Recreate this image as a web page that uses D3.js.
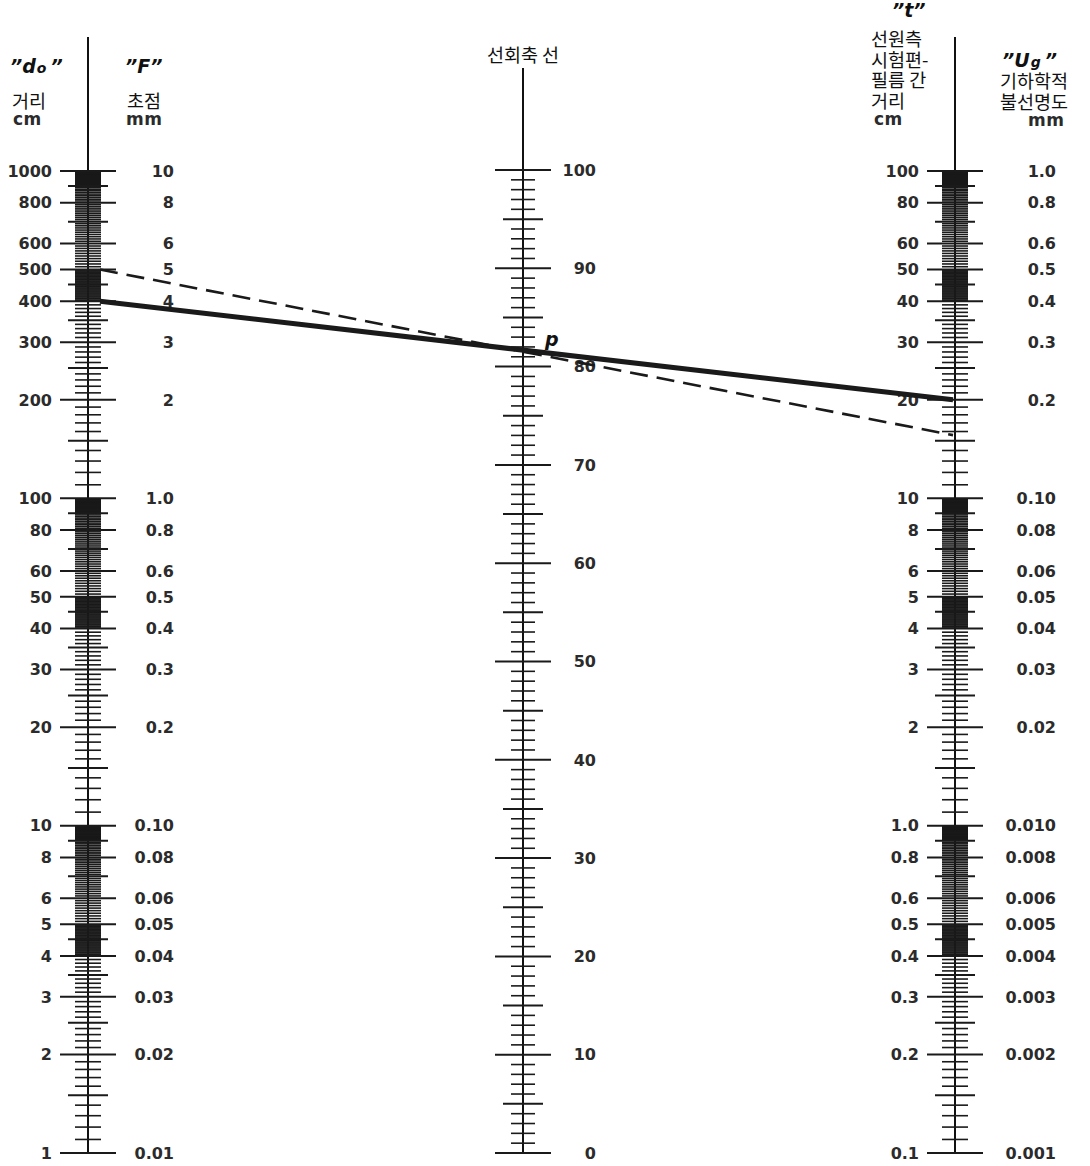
<!DOCTYPE html>
<html>
<head>
<meta charset="utf-8">
<title></title>
<script src="https://d3js.org/d3.v7.min.js"></script>
<style>
body { margin: 0; background: #fff; }
.num { font: bold 16px "DejaVu Sans", sans-serif; fill: #2b2b2b; }
.hdr { font: 18.5px "Noto Sans CJK KR", sans-serif; fill: #111; }
.unit { font: bold 17px "DejaVu Sans", sans-serif; fill: #2b2b2b; letter-spacing: 0.5px; }
.sym { font: italic bold 19px "DejaVu Sans", sans-serif; fill: #111; }
.tick { stroke: #1a1a1a; stroke-width: 2px; }
.axis { stroke: #111; stroke-width: 2px; }
</style>
</head>
<body>
<script>
// labels on the two log scales (left: d0 / F, right: t / Ug)
var doLabels = [1000, 800, 600, 500, 400, 300, 200, 100, 80, 60, 50, 40, 30, 20, 10, 8, 6, 5, 4, 3, 2, 1];
var fLabels = ["10", "8", "6", "5", "4", "3", "2", "1.0", "0.8", "0.6", "0.5", "0.4", "0.3", "0.2",
               "0.10", "0.08", "0.06", "0.05", "0.04", "0.03", "0.02", "0.01"];
var tLabels = ["100", "80", "60", "50", "40", "30", "20", "10", "8", "6", "5", "4", "3", "2",
               "1.0", "0.8", "0.6", "0.5", "0.4", "0.3", "0.2", "0.1"];
var ugLabels = ["1.0", "0.8", "0.6", "0.5", "0.4", "0.3", "0.2", "0.10", "0.08", "0.06", "0.05", "0.04", "0.03", "0.02",
                "0.010", "0.008", "0.006", "0.005", "0.004", "0.003", "0.002", "0.001"];
var pivotLabels = [0, 10, 20, 30, 40, 50, 60, 70, 80, 90, 100];

// tick layout inside one decade (mantissa 1..10)
var majorMant = [1, 2, 3, 4, 5, 6, 8];
var mediumMant = [1.5, 2.5, 3.5, 4.5, 7, 9];
var minorSegs = [[1, 2, 0.1], [2, 3, 0.1], [3, 4, 0.1], [4, 5, 0.02], [5, 9, 0.1], [9, 10, 0.02]];

// the two construction lines (d0 value on the left -> t value on the right)
var solidLine = [400, 20];
var dashedLine = [500, 15.6];

var W = 1090, H = 1166;
var xL = 88, xM = 523, xR = 955;

var svg = d3.select("body").append("svg").attr("width", W).attr("height", H);

var yLeft = d3.scaleLog().domain([1, 1000]).range([1153, 171]);
var yRight = d3.scaleLog().domain([0.1, 100]).range([1153, 171]);
var yMid = d3.scaleLinear().domain([0, 100]).range([1153, 170]);

function decadeTicks(lo, decades) {
  var maj = [], med = [], min = [], fine = [];
  for (var d = 0; d < decades; d++) {
    var base = lo * Math.pow(10, d);
    majorMant.forEach(function(m) { maj.push(m * base); });
    mediumMant.forEach(function(m) { med.push(m * base); });
    minorSegs.forEach(function(s) {
      for (var v = s[0] + s[2]; v < s[1] - 1e-9; v += s[2]) {
        var r = Math.round(v * 100) / 100;
        if (majorMant.indexOf(r) < 0 && mediumMant.indexOf(r) < 0) (s[2] < 0.05 ? fine : min).push(r * base);
      }
    });
  }
  maj.push(lo * Math.pow(10, decades));
  return {maj: maj, med: med, min: min, fine: fine};
}

function drawTicks(g, x, vals, y, half, w) {
  g.selectAll(null).data(vals).enter().append("line")
    .attr("class", "tick")
    .attr("x1", x - half).attr("x2", x + half)
    .attr("y1", function(d) { return y(d); })
    .attr("y2", function(d) { return y(d); })
    .style("stroke-width", w || (half < 15 ? 1.6 : 2));
}

function logAxis(x, y, lo, top) {
  var g = svg.append("g");
  g.append("line").attr("class", "axis").attr("x1", x).attr("x2", x)
    .attr("y1", top).attr("y2", y.range()[0]);
  var t = decadeTicks(lo, 3);
  drawTicks(g, x, t.fine, y, 13, 1.1);
  drawTicks(g, x, t.min, y, 13);
  drawTicks(g, x, t.med, y, 20);
  drawTicks(g, x, t.maj, y, 28);
}

logAxis(xL, yLeft, 1, 37);
logAxis(xR, yRight, 0.1, 37);

// pivot axis
var gm = svg.append("g");
gm.append("line").attr("class", "axis").attr("x1", xM).attr("x2", xM).attr("y1", 68).attr("y2", yMid(0));
var units = d3.range(0, 101);
drawTicks(gm, xM, units.filter(function(d) { return d % 5 != 0; }), yMid, 12);
drawTicks(gm, xM, units.filter(function(d) { return d % 5 == 0 && d % 10 != 0; }), yMid, 20);
drawTicks(gm, xM, pivotLabels, yMid, 28);

// tick labels
function labels(vals, texts, y, x, anchor) {
  svg.append("g").selectAll("text").data(vals).enter().append("text")
    .attr("class", "num")
    .attr("x", x)
    .attr("y", function(d) { return y(d); })
    .attr("dy", "0.36em")
    .attr("text-anchor", anchor)
    .text(function(d, i) { return texts[i]; });
}
labels(doLabels, doLabels.map(String), yLeft, 52, "end");
labels(doLabels, fLabels, yLeft, 174, "end");
labels(pivotLabels, pivotLabels.map(String), yMid, 596, "end");
var tVals = doLabels.map(function(d) { return d / 10; });
labels(tVals, tLabels, yRight, 919, "end");
labels(tVals, ugLabels, yRight, 1056, "end");

// headers
function sym(x, y, main, sub) {
  var t = svg.append("text").attr("class", "sym").attr("x", x).attr("y", y);
  t.append("tspan").text("\u201D" + main);
  if (sub) t.append("tspan").attr("font-size", 14).attr("dx", 1).text(sub);
  t.append("tspan").attr("dx", sub ? 4 : 0).text("\u201D");
}
// multi-line header: korean lines then the unit line, all in one text block
function block(x, y0, lines, unit, ux) {
  var t = svg.append("text").attr("class", "hdr").attr("x", x).attr("y", y0);
  lines.forEach(function(s, i) {
    t.append("tspan").attr("x", x).attr("dy", i ? 20.5 : 0).text(s);
  });
  t.append("tspan").attr("class", "unit").attr("x", ux).attr("dy", 17).text(unit);
}
sym(10, 73, "d", "o");
block(12, 108, ["거리"], "cm", 13);
sym(125, 73, "F");
block(127, 108, ["초점"], "mm", 126);

svg.append("text").attr("class", "hdr").attr("x", 523).attr("y", 62)
  .attr("text-anchor", "middle").text("선회축 선");

sym(892, 17, "t");
block(871, 46, ["선원측", "시험편-", "필름 간", "거리"], "cm", 874);
sym(1002, 67, "U", "g");
block(1000, 88, ["기하학적", "불선명도"], "mm", 1028);

// construction lines through the pivot point
function conLine(v, dash, w) {
  svg.append("line")
    .attr("x1", xL + 12).attr("y1", yLeft(v[0]))
    .attr("x2", xR - 2).attr("y2", yRight(v[1]))
    .attr("stroke", "#1a1a1a").attr("stroke-width", w)
    .attr("stroke-dasharray", dash);
}
conLine(dashedLine, "18,9", 2.6);
conLine(solidLine, null, 5);

svg.append("text").attr("class", "sym").attr("font-size", 21)
  .attr("x", 545).attr("y", 346).text("p");
</script>
</body>
</html>
